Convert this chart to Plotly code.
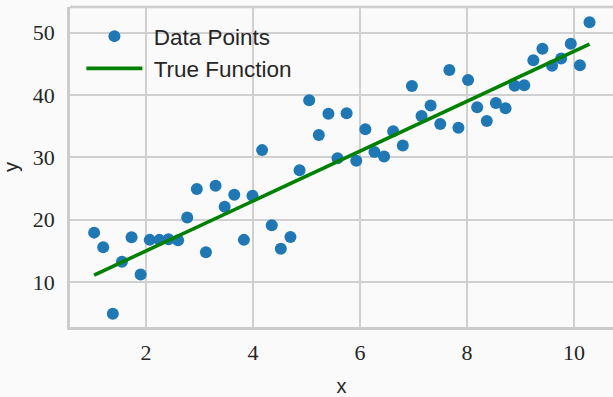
import plotly.graph_objects as go

# Noisy observations
x_obs = [1.03, 1.20, 1.38, 1.55, 1.73, 1.90, 2.07, 2.25, 2.42, 2.60,
         2.77, 2.95, 3.12, 3.30, 3.47, 3.65, 3.83, 3.99, 4.17, 4.35,
         4.52, 4.70, 4.87, 5.05, 5.23, 5.41, 5.58, 5.75, 5.93, 6.10,
         6.27, 6.45, 6.62, 6.80, 6.97, 7.15, 7.32, 7.50, 7.67, 7.84,
         8.02, 8.19, 8.37, 8.54, 8.72, 8.89, 9.07, 9.24, 9.41, 9.59,
         9.76, 9.94, 10.11, 10.29]
y_obs = [17.93, 15.58, 4.94, 13.28, 17.19, 11.20, 16.77, 16.77, 16.88, 16.72,
         20.37, 24.93, 14.80, 25.43, 22.09, 24.00, 16.77, 23.84, 31.16, 19.11,
         15.36, 17.24, 27.94, 39.14, 33.57, 36.98, 29.86, 37.06, 29.44, 34.51,
         30.85, 30.13, 34.19, 31.89, 41.44, 36.63, 38.31, 35.34, 43.99, 34.76,
         42.42, 38.04, 35.81, 38.73, 37.89, 41.48, 41.55, 45.55, 47.43, 44.67,
         45.86, 48.21, 44.77, 51.65]

# Underlying linear function y = 4x + 7, evaluated at the end points
x_true = [1.03, 10.29]
y_true = [11.12, 48.16]

BG = "#fafafa"
GRID = "#d0d0d0"
SPINE = "#cccccc"
TEXT = "#262626"
SERIF = "Liberation Serif"
SANS = "Liberation Sans"

fig = go.Figure()
fig.add_trace(go.Scatter(
    x=x_obs, y=y_obs, mode="markers", name="\u00a0Data Points",
    legendgroup="a",
    marker=dict(color="#1f77b4", size=12, line=dict(width=0)),
))
fig.add_trace(go.Scatter(
    x=x_true, y=y_true, mode="lines", name="\u00a0True Function",
    legendgroup="b",
    line=dict(color="#008000", width=3.6),
))

W, H = 613, 397
L, R, T, B = 70, 0, 7, 62
# pixel scale: 53.5 px per x unit (x=0 at 39px), 6.393 px per y unit (y=0 at 352.9px)
x_range = [(L - 39) / 53.5, (W - R - 39) / 53.5]
y_range = [(352.9 - (H - B)) / 6.393, (352.9 - T) / 6.393]

fig.update_layout(
    width=W, height=H,
    margin=dict(l=L, r=R, t=T, b=B, pad=0),
    paper_bgcolor=BG, plot_bgcolor=BG,
    font=dict(family=SANS, color=TEXT),
    showlegend=True,
    legend=dict(
        x=0.021, y=0.975, xanchor="left", yanchor="top",
        bgcolor="rgba(0,0,0,0)", borderwidth=0,
        font=dict(family=SANS, size=22.5, color=TEXT),
        itemwidth=56, tracegroupgap=0,
    ),
    xaxis=dict(
        range=x_range, tickvals=[2, 4, 6, 8, 10],
        showgrid=True, gridcolor=GRID, gridwidth=1.6,
        zeroline=False, showline=True, linecolor=SPINE, linewidth=2.5,
        mirror=False, ticks="outside", ticklen=4, tickcolor="rgba(0,0,0,0)",
        tickfont=dict(family=SERIF, size=22, color=TEXT),
        title=dict(text="x", font=dict(family=SANS, size=20, color=TEXT), standoff=18),
    ),
    yaxis=dict(
        range=y_range, tickvals=[10, 20, 30, 40, 50],
        showgrid=True, gridcolor=GRID, gridwidth=1.6,
        zeroline=False, showline=True, linecolor=SPINE, linewidth=2.5,
        ticks="outside", ticklen=8, tickcolor="rgba(0,0,0,0)",
        tickfont=dict(family=SERIF, size=22, color=TEXT),
        title=dict(text="y", font=dict(family=SANS, size=20, color=TEXT), standoff=9),
    ),
)
# top spine
fig.add_shape(type="line", xref="paper", yref="paper", x0=0, x1=1, y0=1, y1=1,
              line=dict(color=SPINE, width=2.5), layer="above")

fig.write_html("out.html")
